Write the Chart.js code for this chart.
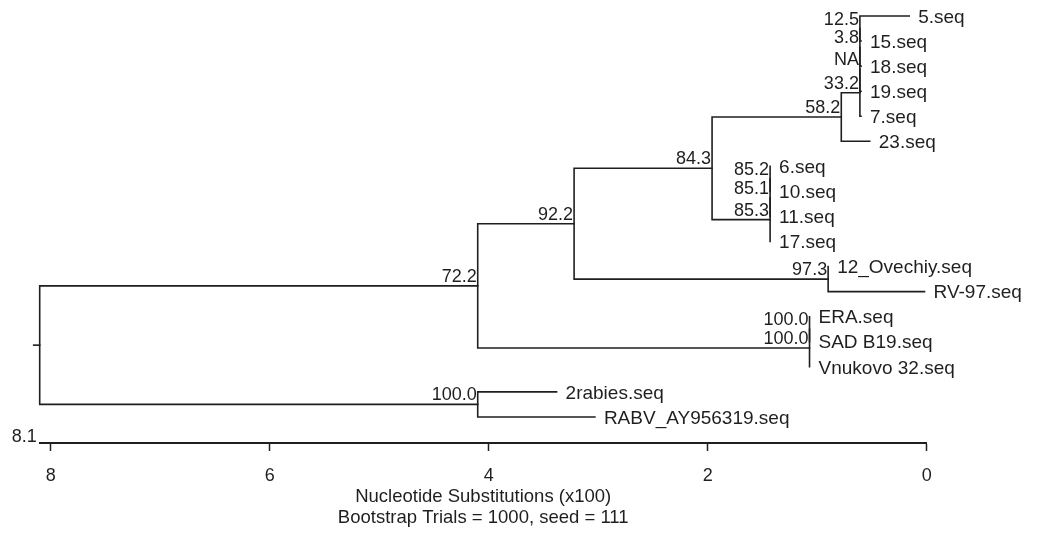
<!DOCTYPE html>
<html><head><meta charset="utf-8">
<script src="https://cdn.jsdelivr.net/npm/chart.js@4.4.0/dist/chart.umd.min.js"></script>
<style>html,body{margin:0;padding:0;background:#fff}#wrap{width:1037px;height:540px}</style>
</head><body><div id="wrap"><canvas id="c" width="1037" height="540"></canvas></div>
<script>
// ---- data ----
const leafNames = ['5.seq','15.seq','18.seq','19.seq','7.seq','23.seq','6.seq','10.seq','11.seq','17.seq',
  '12_Ovechiy.seq','RV-97.seq','ERA.seq','SAD B19.seq','Vnukovo 32.seq','2rabies.seq','RABV_AY956319.seq'];
const leafDist = [0.16,0.60,0.60,0.60,0.60,0.52,1.43,1.43,1.43,1.43,0.90,0.02,1.07,1.07,1.07,3.38,3.03];
const nodeLabels = ['12.5','3.8','NA','33.2','58.2','85.2','85.1','85.3','84.3','97.3','92.2','100.0','100.0','72.2','100.0',''];
const nodeDist = [0.61,0.61,0.61,0.61,0.78,1.43,1.43,1.43,1.96,0.90,3.22,1.07,1.07,4.10,4.10,8.10];
const nodeChildA = ['L0','N0','N1','N2','N3','L6','N5','N6','N4','L10','N8','L12','N11','N10','L15','N13'];
const nodeChildB = ['L1','L2','L3','L4','L5','L7','L8','L9','N7','L11','N9','L13','L14','N12','L16','N14'];
const tickValues = [0,2,4,6,8];
const axisMax = 8.1;
const rootStub = 0.055;
const axisTitle = ['Nucleotide Substitutions (x100)','Bootstrap Trials = 1000, seed = 111'];

// ---- tree geometry (in data units) ----
const nodeY = [];
function yOf(r){ return r[0]==='L' ? +r.slice(1) : nodeY[+r.slice(1)]; }
function dOf(r){ return r[0]==='L' ? leafDist[+r.slice(1)] : nodeDist[+r.slice(1)]; }
nodeChildA.forEach((a,i)=>{ nodeY[i] = (yOf(a)+yOf(nodeChildB[i]))/2; });
const rootIdx = nodeLabels.length-1;

const INK = '#1f1f1f';
const FONT = '"Liberation Sans", Arial, sans-serif';
const lineStyle = {borderColor: INK, borderWidth: 1.6, pointRadius: 0, showLine: true, tension: 0, clip: false, borderJoinStyle: 'miter', borderCapStyle: 'square'};
const datasets = nodeChildA.map((a,i)=>{
  const b = nodeChildB[i];
  return Object.assign({data: [
    {x: dOf(a), y: yOf(a)}, {x: nodeDist[i], y: yOf(a)},
    {x: nodeDist[i], y: yOf(b)}, {x: dOf(b), y: yOf(b)}]}, lineStyle);
});
datasets.push(Object.assign({data: [{x: axisMax + rootStub, y: nodeY[rootIdx]}, {x: axisMax, y: nodeY[rootIdx]}]}, lineStyle));

const labelPlugin = {
  id: 'treeLabels',
  afterDatasetsDraw(chart){
    const ctx = chart.ctx, xs = chart.scales.x, ys = chart.scales.y;
    ctx.save();
    ctx.fillStyle = INK;
    // leaf labels
    ctx.font = '19px ' + FONT;
    ctx.textAlign = 'left'; ctx.textBaseline = 'middle';
    leafNames.forEach((n,i)=>{
      ctx.fillText(n, xs.getPixelForValue(leafDist[i]) + 9, ys.getPixelForValue(i) + 1.5);
    });
    // bootstrap labels
    ctx.font = '18px ' + FONT;
    ctx.textAlign = 'right'; ctx.textBaseline = 'alphabetic';
    nodeLabels.forEach((n,i)=>{
      if(!n) return;
      ctx.fillText(n, xs.getPixelForValue(nodeDist[i]) - 1, ys.getPixelForValue(nodeY[i]) - 4);
    });
    // axis max label
    ctx.fillText(String(axisMax), xs.getPixelForValue(axisMax) - 3, xs.top - 1);
    ctx.restore();
  }
};

new Chart(document.getElementById('c'), {
  type: 'scatter',
  data: {datasets},
  plugins: [labelPlugin],
  options: {
    responsive: false, animation: false,
    layout: {padding: {left: 39.7, right: 110.3, top: 16, bottom: 0}},
    plugins: {legend: {display: false}, tooltip: {enabled: false}},
    scales: {
      x: {
        type: 'linear', reverse: true, min: 0, max: axisMax, position: 'bottom',
        afterBuildTicks: s => { s.ticks = tickValues.map(v => ({value: v})); },
        afterFit: s => { s.height = 97; },
        grid: {display: true, drawOnChartArea: false, drawTicks: true, tickLength: 8, tickColor: INK, tickWidth: 1.5},
        border: {display: true, color: INK, width: 2},
        ticks: {color: INK, padding: 14, font: {size: 18, family: FONT}, maxRotation: 0},
        title: {display: true, text: axisTitle, color: INK, font: {size: 18.5, family: FONT, lineHeight: 1.17}, padding: {top: 0, bottom: 11}}
      },
      y: {type: 'linear', display: false, reverse: true, min: 0, max: 17.04}
    }
  }
});
</script></body></html>
